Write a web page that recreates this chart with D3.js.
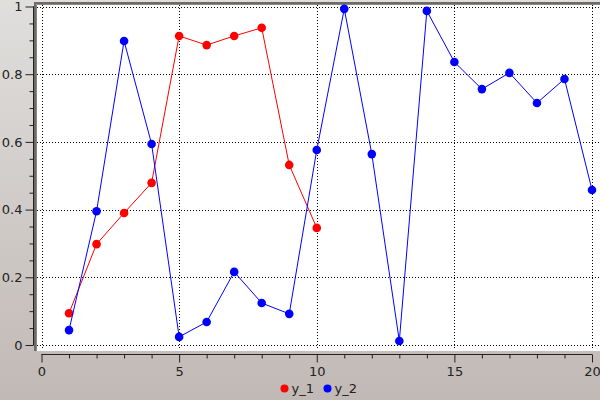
<!DOCTYPE html>
<html><head><meta charset="utf-8">
<script src="https://cdn.jsdelivr.net/npm/d3@7"></script>
<style>body{margin:0;padding:0;overflow:hidden}svg{display:block}</style>
</head><body>
<svg id="c" width="600" height="400"></svg>
<script>
const x1 = [1,2,3,4,5,6,7,8,9,10];
const y1 = [0.094,0.298,0.390,0.479,0.913,0.886,0.913,0.937,0.532,0.346];
const x2 = [1,2,3,4,5,6,7,8,9,10,11,12,13,14,15,16,17,18,19,20];
const y2 = [0.044,0.395,0.898,0.594,0.024,0.068,0.216,0.124,0.092,0.576,0.993,0.564,0.012,0.987,0.836,0.756,0.804,0.715,0.786,0.458];
const seriesNames = ["y_1","y_2"];
const seriesColors = ["#ff0000","#0000ff"];
const xTicks = [0,5,10,15,20];
const yTicks = [0,0.2,0.4,0.6,0.8,1];

const svg = d3.select("#c");
const defs = svg.append("defs");
const g = defs.append("linearGradient").attr("id","bg").attr("x1",0).attr("y1",0).attr("x2",0).attr("y2",1);
g.append("stop").attr("offset","0%").attr("stop-color","#e0dfdd");
g.append("stop").attr("offset","100%").attr("stop-color","#c1b9b5");
svg.append("rect").attr("width",600).attr("height",400).attr("fill","url(#bg)");

const x = d3.scaleLinear().domain([0,20]).range([41.5,592]);
const y = d3.scaleLinear().domain([0,1]).range([345,6.5]);

// canvas
svg.append("rect").attr("x",35).attr("y",3).attr("width",565).attr("height",348).attr("fill","#fff");
svg.append("path").attr("d","M35,351V3H600").attr("fill","none").attr("stroke","#6e6a67").attr("stroke-width",2);
svg.append("path").attr("d","M36.5,351V4.5H600").attr("fill","none").attr("stroke","#8a8683").attr("stroke-width",1);

// grid
const grid = svg.append("g").attr("stroke","#000").attr("stroke-dasharray","1,2").attr("stroke-width",1);
xTicks.forEach(t=>grid.append("line").attr("x1",Math.round(x(t))+0.5).attr("x2",Math.round(x(t))+0.5).attr("y1",5).attr("y2",350));
yTicks.forEach(t=>grid.append("line").attr("y1",Math.round(y(t))+0.5).attr("y2",Math.round(y(t))+0.5).attr("x1",37).attr("x2",600));

// axes
const font = "DejaVu Sans, sans-serif";
const yAxis = d3.axisLeft(y).tickValues(yTicks).tickFormat(d3.format("")).tickSize(8).tickPadding(3);
const ya = svg.append("g").attr("transform","translate(33.5,0)").call(yAxis);
const yMinor = d3.axisLeft(y).tickValues(d3.range(0,1.0001,0.05).filter(v=>Math.abs(v*5-Math.round(v*5))>1e-6)).tickFormat("").tickSize(4);
svg.append("g").attr("transform","translate(33.5,0)").call(yMinor).select(".domain").remove();
const xAxis = d3.axisBottom(x).tickValues(xTicks).tickSize(8).tickPadding(4);
const xa = svg.append("g").attr("transform","translate(0,354.5)").call(xAxis);
const xMinor = d3.axisBottom(x).tickValues(d3.range(0,21).filter(v=>v%5!==0)).tickFormat("").tickSize(4);
svg.append("g").attr("transform","translate(0,354.5)").call(xMinor).select(".domain").remove();
svg.selectAll(".tick line").attr("stroke","#222");
svg.selectAll(".domain").attr("stroke","#222");
[ya,xa].forEach(a=>a.selectAll("text").attr("font-family",font).attr("font-size",13).attr("fill","#222"));
ya.select(".domain").attr("d","M-0.5,"+y(1)+"H0V"+y(0)+"H-0.5");
xa.select(".domain").attr("d","M"+x(0)+",0.5V0H"+x(20)+"V0.5");

// series
const line = d3.line().x(d=>x(d[0])).y(d=>y(d[1]));
const data = [x1.map((v,i)=>[v,y1[i]]), x2.map((v,i)=>[v,y2[i]])];
data.forEach((d,i)=>{
  svg.append("path").datum(d).attr("d",line).attr("fill","none").attr("stroke",seriesColors[i]).attr("stroke-width",1);
  svg.append("g").selectAll("circle").data(d).join("circle").attr("cx",p=>x(p[0])).attr("cy",p=>y(p[1])).attr("r",4.3).attr("fill",seriesColors[i]);
});

// legend
const leg = svg.append("g");
const legX = [284.5, 327.5];
seriesNames.forEach((n,i)=>{
  leg.append("circle").attr("cx",legX[i]).attr("cy",388.5).attr("r",4).attr("fill",seriesColors[i]);
  leg.append("text").attr("x",legX[i]+7).attr("y",393).attr("font-family",font).attr("font-size",13).attr("fill","#222").text(n);
});
</script>
</body></html>
